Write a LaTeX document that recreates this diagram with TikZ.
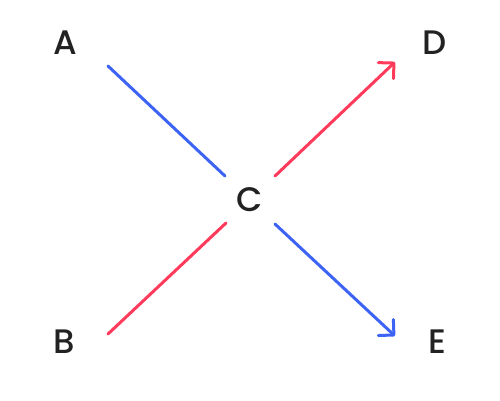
\documentclass[tikz,border=0pt]{standalone}
\usepackage{fontspec}
\setmainfont{Poppins}
\newfontfamily\pmed{Poppins Medium}
\usetikzlibrary{arrows.meta}
\definecolor{cblue}{HTML}{3D63F5}
\definecolor{cred}{HTML}{FF3B5C}
\definecolor{ctext}{HTML}{222222}
\tikzset{
  lbl/.style={text=ctext,font=\pmed\fontsize{34}{40}\selectfont,inner sep=0pt},
  conn/.style={line width=3pt,line cap=round},
  tip/.style={-{Straight Barb[length=11pt,width=22pt,line width=3pt,round]}}
}
\begin{document}
\begin{tikzpicture}[x=1pt,y=-1pt]
\useasboundingbox (0,0) rectangle (500,400);
\node[lbl] (A) at (65,43) {A};
\node[lbl] (D) at (435,43) {D};
\node[lbl] (C) at (250,200) {C};
\node[lbl] (B) at (64,342) {B};
\node[lbl] (E) at (437,342) {E};
\coordinate (a1) at (108,66);
\coordinate (c1) at (225,176);
\coordinate (b1) at (108,334);
\coordinate (c2) at (226,223);
\coordinate (c3) at (275,176);
\coordinate (d1) at (395,62);
\coordinate (c4) at (275,224);
\coordinate (e1) at (395,336);
\draw[conn,cblue] (a1) -- (c1);
\draw[conn,cred] (b1) -- (c2);
\draw[conn,cred,tip] (c3) -- (d1);
\draw[conn,cblue,tip] (c4) -- (e1);
\end{tikzpicture}
\end{document}
